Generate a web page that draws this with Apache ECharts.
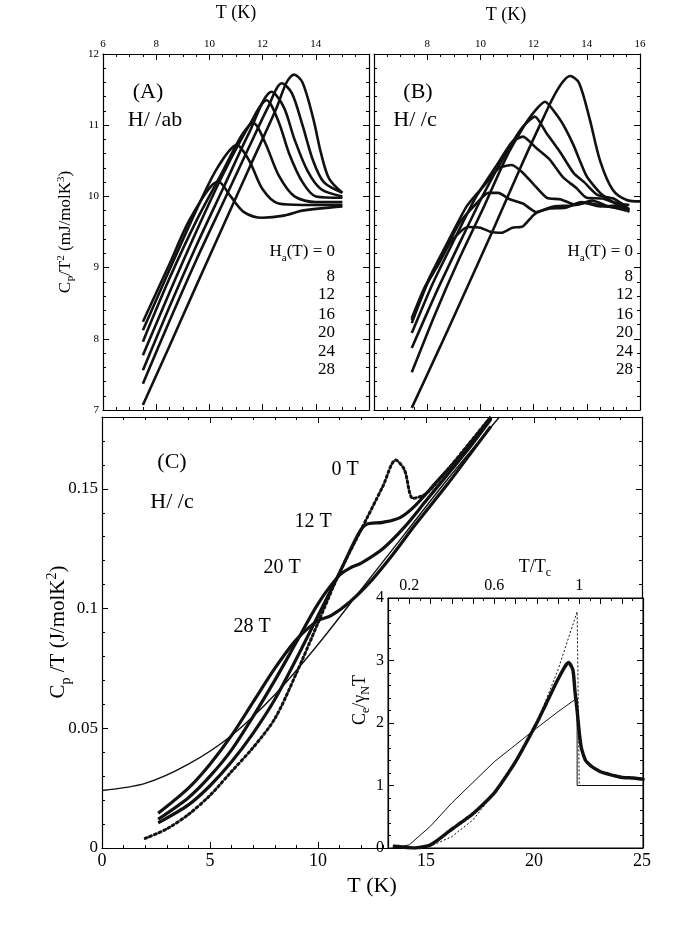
<!DOCTYPE html>
<html>
<head>
<meta charset="utf-8">
<script src="https://cdn.jsdelivr.net/npm/echarts@6/dist/echarts.min.js"></script>
<style>
  html, body { margin: 0; padding: 0; background: #fff; }
  #main { width: 674px; height: 928px; }
</style>
</head>
<body>
<div id="main"></div>
<script>
// panel A, H//ab : [T (K), Cp/T^2 (mJ/molK^3)]
var a0  = [[7.5,7.07],[8.5,7.9],[9.5,8.74],[10.5,9.57],[11.5,10.4],[12.5,11.22],[12.9,11.6],[13.18,11.71],[13.5,11.6],[13.9,11.1],[14.2,10.6],[14.5,10.25],[15,10.05]];
var a8  = [[7.5,7.37],[8.5,8.25],[9.5,9.1],[10.5,9.9],[11.5,10.7],[12.2,11.25],[12.72,11.59],[13.1,11.45],[13.5,11.0],[13.9,10.5],[14.3,10.2],[15,10.05]];
var a12 = [[7.5,7.56],[8.5,8.45],[9.5,9.3],[10.5,10.1],[11.5,10.9],[12.34,11.47],[12.8,11.25],[13.2,10.8],[13.7,10.35],[14.2,10.1],[15,10.0]];
var a16 = [[7.5,7.77],[8.5,8.65],[9.5,9.5],[10.5,10.3],[11.5,11.0],[12.15,11.35],[12.6,11.05],[13.0,10.6],[13.5,10.2],[14,10.0],[15,9.98]];
var a20 = [[7.5,7.96],[8.5,8.85],[9.5,9.65],[10.5,10.35],[11.2,10.85],[11.65,11.03],[12.1,10.75],[12.6,10.3],[13.2,10.0],[14,9.92],[15,9.92]];
var a24 = [[7.5,8.12],[8.5,8.97],[9.5,9.8],[10.3,10.4],[11.03,10.72],[11.5,10.5],[12.0,10.1],[12.6,9.9],[13.5,9.88],[15,9.88]];
var a28 = [[7.5,8.24],[8.5,9.05],[9.3,9.7],[10.34,10.21],[10.8,10.0],[11.3,9.78],[12.0,9.7],[12.8,9.73],[13.5,9.8],[15,9.86]];

// panel B, H//c
var b0  = [[7.42,7.03],[8.5,7.9],[9.5,8.72],[10.5,9.55],[11.5,10.4],[12.3,11.05],[12.9,11.5],[13.37,11.69],[13.7,11.6],[14.1,11.1],[14.5,10.5],[14.98,10.09],[15.5,9.95],[16,9.93]];
var b8  = [[7.42,7.53],[8.3,8.35],[9.2,9.12],[10.1,9.83],[11,10.57],[11.8,11.08],[12.43,11.33],[12.9,11.13],[13.2,10.95],[13.5,10.72],[14,10.28],[14.5,10.05],[15,9.92],[15.6,9.88]];
var b12 = [[7.42,7.87],[8.3,8.62],[9.2,9.33],[10.1,10.02],[11,10.63],[11.6,10.98],[12.05,11.12],[12.5,10.88],[13,10.62],[13.5,10.33],[13.9,10.2],[14.4,10.02],[15,9.97],[15.6,9.82]];
var b16 = [[7.42,8.08],[8.2,8.77],[9,9.38],[9.8,9.97],[10.6,10.43],[11.2,10.77],[11.6,10.84],[12.1,10.68],[12.6,10.52],[13.1,10.27],[13.6,10.12],[14,9.98],[14.6,9.97],[15.2,9.88],[15.6,9.8]];
var b20 = [[7.42,8.26],[8.1,8.87],[8.8,9.38],[9.5,9.87],[10.2,10.18],[10.7,10.4],[11.18,10.44],[11.6,10.33],[12,10.17],[12.5,9.98],[13,9.96],[13.6,9.88],[14.2,9.94],[14.8,9.86],[15.5,9.8]];
var b24 = [[7.42,8.22],[8.0,8.77],[8.6,9.18],[9.2,9.62],[9.8,9.88],[10.3,10.05],[10.67,10.05],[11.1,9.96],[11.6,9.9],[12.1,9.78],[12.6,9.83],[13.2,9.84],[13.8,9.92],[14.5,9.86],[15.2,9.87],[15.6,9.78]];
var b28 = [[7.42,8.29],[7.9,8.72],[8.4,9.03],[8.9,9.37],[9.53,9.57],[10,9.56],[10.4,9.5],[10.8,9.49],[11.2,9.56],[11.6,9.58],[12,9.74],[12.3,9.8],[12.8,9.86],[13.4,9.87],[14,9.91],[14.7,9.86],[15.5,9.85]];

// panel C, H//c : [T (K), Cp/T (J/molK^2)]
var cNormal = [[0,0.024],[2,0.027],[4,0.035],[6,0.047],[8,0.064],[10,0.085],[12,0.108],[14,0.131],[16,0.154],[18.4,0.18]];
var c0  = [[2,0.004],[3,0.008],[4,0.014],[5,0.022],[6,0.032],[7,0.042],[8,0.054],[9,0.073],[10,0.094],[11,0.115],[12,0.133],[13,0.151],[13.6,0.162],[14.0,0.158],[14.4,0.146],[15,0.148],[16,0.158],[17,0.169],[18,0.18]];
var c12 = [[2.6,0.0105],[4,0.018],[5,0.026],[6,0.036],[7,0.048],[8,0.062],[9,0.079],[10,0.097],[11,0.115],[11.8,0.13],[12.2,0.135],[13,0.136],[13.8,0.138],[14.5,0.143],[15.5,0.153],[16.5,0.163],[18,0.18]];
var c20 = [[2.6,0.012],[4,0.021],[5,0.03],[6,0.041],[7,0.055],[8,0.07],[9,0.086],[10,0.102],[11,0.114],[11.5,0.117],[12,0.119],[13,0.125],[14,0.134],[15,0.145],[16,0.156],[17,0.167],[18,0.179]];
var c28 = [[2.6,0.0145],[4,0.025],[5,0.035],[6,0.047],[7,0.061],[8,0.075],[9,0.087],[10,0.095],[10.6,0.097],[11.5,0.103],[12.5,0.112],[13.5,0.123],[14.5,0.135],[16,0.152],[17,0.164],[18,0.176]];

// inset : [T/Tc, Ce/gammaN T]
var insetData = [[0.13,0.03],[0.18,0.01],[0.22,0],[0.3,0.05],[0.4,0.3],[0.5,0.55],[0.6,0.88],[0.7,1.38],[0.8,2.0],[0.85,2.35],[0.9,2.7],[0.95,2.97],[0.97,2.85],[0.98,2.5],[0.99,2.2],[1.0,1.85],[1.01,1.6],[1.03,1.4],[1.06,1.3],[1.1,1.22],[1.15,1.17],[1.2,1.13],[1.25,1.12],[1.3,1.1]];
var insetBCS = [[0.2,0],[0.3,0.03],[0.4,0.18],[0.5,0.45],[0.6,0.88],[0.7,1.4],[0.8,2.0],[0.9,2.85],[0.99,3.78],[1.0,1.0]];
var insetModel = [[0.12,0],[0.2,0.05],[0.3,0.35],[0.4,0.72],[0.5,1.05],[0.6,1.38],[0.7,1.65],[0.8,1.92],[0.9,2.18],[0.99,2.4],[0.99,1.0],[1.3,1.0]];

var fieldLabels = ['0', '8', '12', '16', '20', '24', '28'];

var FONT = 'Liberation Serif';
var chart = echarts.init(document.getElementById('main'));

function xAx(grid, pos, min, max, interval, minor, showLabel, fmt, size) {
  return {
    type: 'value', gridIndex: grid, position: pos, min: min, max: max, interval: interval,
    axisLine: { show: true, onZero: false, lineStyle: { color: '#000', width: 1.2 } },
    axisTick: { inside: true, length: 6, lineStyle: { color: '#000' } },
    minorTick: { show: true, splitNumber: minor, length: 3, lineStyle: { color: '#000' } },
    splitLine: { show: false },
    axisLabel: { show: showLabel, color: '#000', fontFamily: FONT, fontSize: size || 12, margin: 4, formatter: fmt }
  };
}

function lineS(data, xi, yi, width, extra) {
  return Object.assign({
    type: 'line', data: data, xAxisIndex: xi, yAxisIndex: yi, showSymbol: false, symbol: 'none',
    smooth: 0.3, silent: true, lineStyle: { color: '#111', width: width }
  }, extra || {});
}

function legendTexts(x) {
  var out = [];
  var ys = [252, 277, 295, 315, 333, 352, 370];
  for (var i = 0; i < fieldLabels.length; i++) {
    out.push({
      type: 'text', x: x, y: ys[i],
      style: {
        text: i === 0 ? '{n|H}{s|a}{n|(T) = ' + fieldLabels[0] + '}' : fieldLabels[i],
        align: 'right', verticalAlign: 'middle', fontFamily: FONT, fontSize: 17, fill: '#000',
        rich: { n: { fontFamily: FONT, fontSize: 17 }, s: { fontFamily: FONT, fontSize: 11, padding: [12, 0, 0, 0] } }
      }
    });
  }
  return out;
}

function txt(x, y, text, size, extra) {
  return Object.assign({
    type: 'text', x: x, y: y,
    style: { text: text, fontFamily: FONT, fontSize: size, fill: '#000', align: 'center', verticalAlign: 'middle' }
  }, extra || {});
}

var aFmt = function (v) { return v === 16 ? '' : v; };
var bFmt = function (v) { return v === 6 ? '' : v; };
var cyFmt = function (v) { var r = Math.round(v * 100) / 100; return r === 0.18 ? '' : r; };
var inFmt = function (v) { var r = Math.round(v * 10); return (r === 2 || r === 6) ? (r / 10) : (r === 10 ? '1' : ''); };

chart.setOption({
  animation: false,
  backgroundColor: '#fff',
  grid: [
    { left: 103, top: 54, width: 266, height: 356 },
    { left: 374, top: 54, width: 266, height: 356 },
    { left: 102, top: 417, width: 540, height: 431 },
    { left: 388, top: 598, width: 255, height: 250, show: true, backgroundColor: '#fff', borderColor: '#000', z: 5 }
  ],
  xAxis: [
    xAx(0, 'top', 6, 16, 2, 4, true, aFmt, 11),
    xAx(0, 'bottom', 6, 16, 2, 4, false),
    xAx(1, 'top', 6, 16, 2, 4, true, bFmt, 11),
    xAx(1, 'bottom', 6, 16, 2, 4, false),
    xAx(2, 'bottom', 0, 25, 5, 5, true, null, 18),
    xAx(2, 'top', 0, 25, 5, 5, false),
    Object.assign(xAx(3, 'top', 0.1, 1.3, 0.1, 2, true, inFmt, 16), { z: 6 })
  ],
  yAxis: [
    xAx(0, 'left', 7, 12, 1, 5, true, null, 11),
    xAx(0, 'right', 7, 12, 1, 5, false),
    xAx(1, 'left', 7, 12, 1, 5, false),
    xAx(1, 'right', 7, 12, 1, 5, false),
    xAx(2, 'left', 0, 0.18, 0.05, 5, true, cyFmt, 17),
    xAx(2, 'right', 0, 0.18, 0.05, 5, false),
    Object.assign(xAx(3, 'left', 0, 4, 1, 5, true, null, 16), { z: 6 }),
    Object.assign(xAx(3, 'right', 0, 4, 1, 5, false), { z: 6 })
  ],
  series: [
    lineS(a0, 0, 0, 2.6), lineS(a8, 0, 0, 2.6), lineS(a12, 0, 0, 2.6), lineS(a16, 0, 0, 2.6),
    lineS(a20, 0, 0, 2.6), lineS(a24, 0, 0, 2.6), lineS(a28, 0, 0, 2.6),
    lineS(b0, 2, 2, 2.6), lineS(b8, 2, 2, 2.6, { smooth: 0.2 }), lineS(b12, 2, 2, 2.6, { smooth: 0.2 }),
    lineS(b16, 2, 2, 2.6, { smooth: 0.2 }), lineS(b20, 2, 2, 2.6, { smooth: 0.2 }),
    lineS(b24, 2, 2, 2.6, { smooth: 0.2 }), lineS(b28, 2, 2, 2.6, { smooth: 0.2 }),
    lineS(cNormal, 4, 4, 1.4),
    lineS(c0, 4, 4, 3, { lineStyle: { color: '#111', width: 3, type: [2, 3], cap: 'round' } }),
    lineS(c12, 4, 4, 3.2),
    lineS(c20, 4, 4, 3.2),
    lineS(c28, 4, 4, 3.2),
    lineS(insetModel, 6, 6, 1, { smooth: false, z: 7 }),
    lineS(insetBCS, 6, 6, 1, { smooth: false, z: 7, lineStyle: { color: '#111', width: 1, type: [2, 2] } }),
    lineS(insetData, 6, 6, 3.2, { smooth: 0.2, z: 8, lineStyle: { color: '#111', width: 3.5, type: [3, 1], cap: 'round' } })
  ],
  graphic: [
    txt(236, 13, 'T (K)', 18),
    txt(506, 15, 'T (K)', 18),
    txt(372, 886, 'T (K)', 22),
    txt(148, 92, '(A)', 22),
    txt(155, 120, 'H/ /ab', 22),
    txt(418, 92, '(B)', 22),
    txt(415, 120, 'H/ /c', 22),
    txt(172, 462, '(C)', 22),
    txt(172, 502, 'H/ /c', 22),
    txt(345, 470, '0 T', 20),
    txt(313, 522, '12 T', 20),
    txt(282, 568, '20 T', 20),
    txt(252, 627, '28 T', 20),
    {
      type: 'text', x: 66, y: 232, rotation: Math.PI / 2,
      style: {
        text: '{n|C}{s|P}{n|/T}{p|2}{n| (mJ/molK}{p|3}{n|)}', align: 'center', verticalAlign: 'middle', fill: '#000',
        rich: {
          n: { fontFamily: FONT, fontSize: 17 },
          s: { fontFamily: FONT, fontSize: 11, padding: [12, 0, 0, 0] },
          p: { fontFamily: FONT, fontSize: 11, padding: [0, 0, 10, 0] }
        }
      }
    },
    {
      type: 'text', x: 58, y: 632, rotation: Math.PI / 2,
      style: {
        text: '{n|C}{s|p}{n| /T (J/molK}{p|2}{n|)}', align: 'center', verticalAlign: 'middle', fill: '#000',
        rich: {
          n: { fontFamily: FONT, fontSize: 21 },
          s: { fontFamily: FONT, fontSize: 14, padding: [16, 0, 0, 0] },
          p: { fontFamily: FONT, fontSize: 14, padding: [0, 0, 12, 0] }
        }
      }
    },
    {
      type: 'text', x: 360, y: 700, rotation: Math.PI / 2, z: 10,
      style: {
        text: '{n|C}{s|e}{n|/γ}{s|N}{n|T}', align: 'center', verticalAlign: 'middle', fill: '#000',
        rich: {
          n: { fontFamily: FONT, fontSize: 18 },
          s: { fontFamily: FONT, fontSize: 12, padding: [12, 0, 0, 0] }
        }
      }
    },
    {
      type: 'text', x: 535, y: 567, z: 10,
      style: {
        text: '{n|T/T}{s|c}', align: 'center', verticalAlign: 'middle', fill: '#000',
        rich: { n: { fontFamily: FONT, fontSize: 18 }, s: { fontFamily: FONT, fontSize: 12, padding: [12, 0, 0, 0] } }
      }
    }
  ].concat(legendTexts(335), legendTexts(633))
});
</script>
</body>
</html>
